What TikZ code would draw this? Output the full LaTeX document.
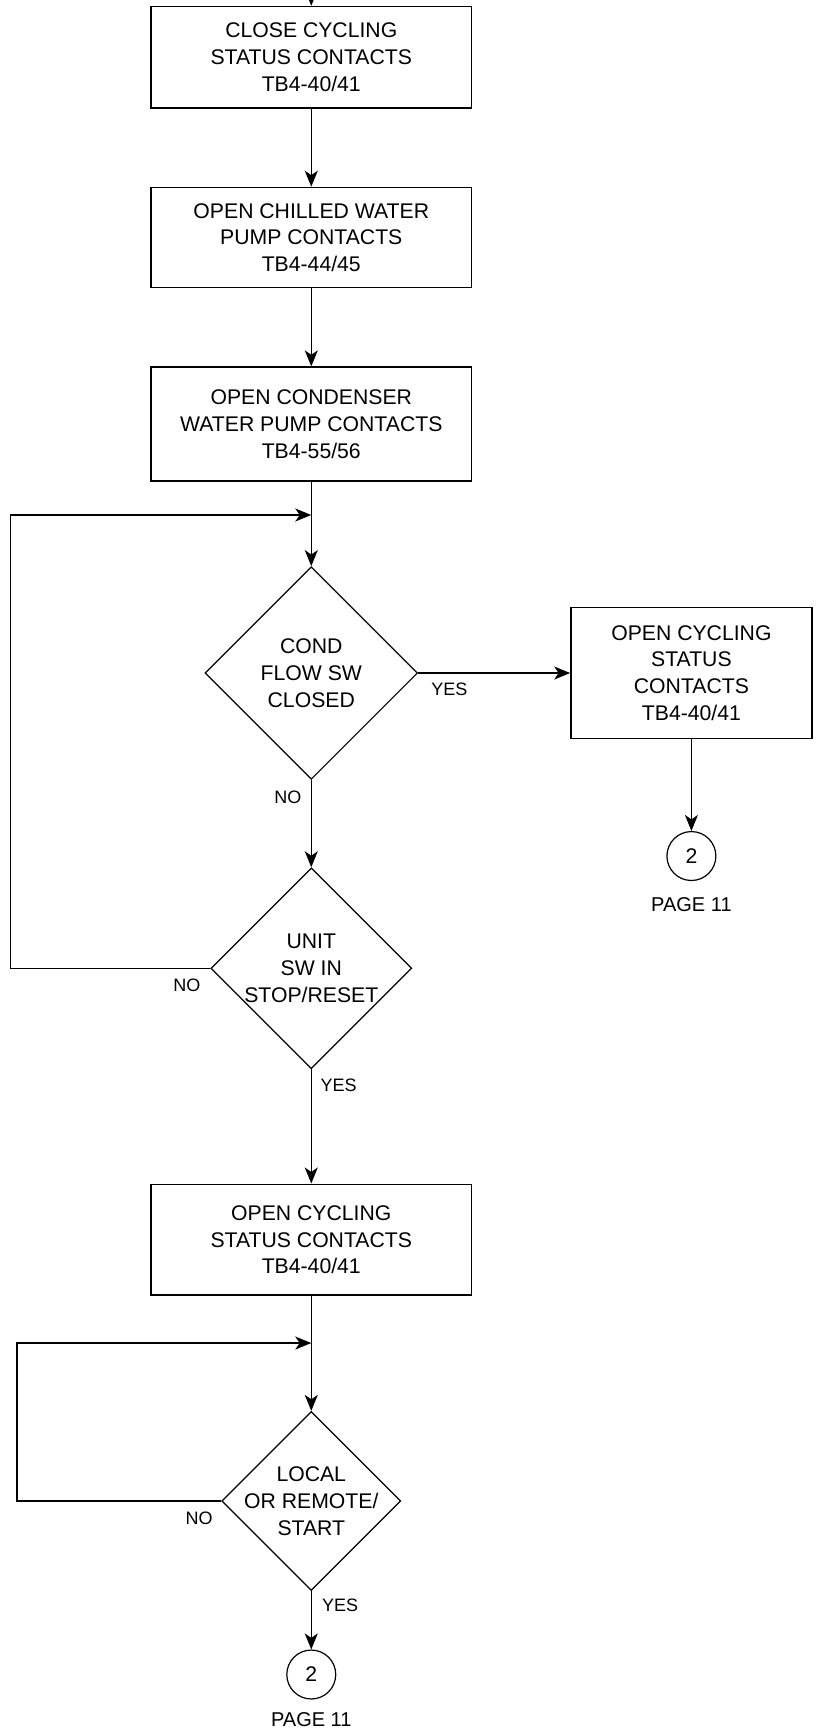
\documentclass[tikz,border=0pt]{standalone}
\usepackage{fontspec}
\setmainfont{Liberation Sans}
\usetikzlibrary{arrows.meta, positioning, shapes.geometric}

\begin{document}
\begin{tikzpicture}[
    font=\fontsize{10.6}{13.4}\selectfont,
    box/.style={draw, line width=0.7pt, minimum width=5.64cm, align=center, inner sep=2pt},
    dec/.style={draw, diamond, line width=0.6pt, align=center, inner sep=-8pt},
    conn/.style={draw, circle, line width=0.6pt, minimum size=0.86cm, inner sep=0pt},
    lbl/.style={font=\fontsize{9}{11}\selectfont, inner sep=1pt},
    pg/.style={font=\fontsize{10}{12}\selectfont, inner sep=1pt},
    barr/.style={-{Stealth[length=8pt, width=6.5pt, inset=2.2pt]}, line width=0.75pt},
]
\useasboundingbox (0,0) rectangle (14.357,-30.489);

% ── Sequência de contatos ──────────────────────────
\coordinate (topo) at (5.47,0.3);
\node[box, minimum height=1.78cm] (b1) at (5.47,-1.005) {CLOSE CYCLING\\STATUS CONTACTS\\TB4-40/41};
\node[box, minimum height=1.76cm] (b2) at (5.47,-4.174) {OPEN CHILLED WATER\\PUMP CONTACTS\\TB4-44/45};
\node[box, minimum height=2.0cm]  (b3) at (5.47,-7.451) {OPEN CONDENSER\\WATER PUMP CONTACTS\\TB4-55/56};

% Decisões
\node[dec, minimum width=3.736cm, minimum height=3.736cm] (d1) at (5.47,-11.827) {COND\\FLOW SW\\CLOSED};
\node[dec, minimum width=3.53cm, minimum height=3.53cm]   (d2) at (5.47,-17.016) {UNIT\\SW IN\\STOP/RESET};

% Ramo da direita
\node[box, minimum width=4.235cm, minimum height=2.3cm] (b4) at (12.15,-11.827) {OPEN CYCLING\\STATUS\\CONTACTS\\TB4-40/41};
\node[conn] (c1) at (12.15,-15.043) {2};
\node[pg, below=0.25cm of c1] (p1) {PAGE 11};

% ── Parte de baixo ─────────────────────────────────
\node[box, minimum height=1.95cm] (b5) at (5.47,-21.785) {OPEN CYCLING\\STATUS CONTACTS\\TB4-40/41};
\node[dec, minimum width=3.146cm, minimum height=3.146cm] (d3) at (5.47,-26.377) {LOCAL\\OR REMOTE/\\START};
\node[conn] (c2) at (5.47,-29.426) {2};
\node[pg, below=0.18cm of c2] (p2) {PAGE 11};

% Pontos dos laços
\coordinate (j1) at (5.47,-9.05);
\coordinate (k1) at (0.183,-9.05);
\coordinate (j2) at (5.47,-23.601);
\coordinate (k2) at (0.302,-23.601);

% Rótulos SIM / NÃO
\node[lbl, below right=0.13cm and 0.19cm of d1.east]  (y1) {YES};
\node[lbl, below left=0.15cm and 0.13cm of d1.south]  (n1) {NO};
\node[lbl, below left=0.15cm and 0.13cm of d2.west]   (n2) {NO};
\node[lbl, below right=0.13cm and 0.12cm of d2.south] (y2) {YES};
\node[lbl, below left=0.15cm and 0.11cm of d3.west]   (n3) {NO};
\node[lbl, below right=0.1cm and 0.15cm of d3.south]  (y3) {YES};

% Setas
\draw[barr] (topo) -- (b1);
\draw[barr] (b1) -- (b2);
\draw[barr] (b2) -- (b3);
\draw[barr] (b3) -- (d1);
\draw[barr] (d1) -- (b4);
\draw[barr] (b4) -- (c1);
\draw[barr] (d1) -- (d2);
\draw[barr] (d2.west) -| (k1) -- (j1);
\draw[barr] (d2) -- (b5);
\draw[barr] (b5) -- (d3);
\draw[barr] (d3.west) -| (k2) -- (j2);
\draw[barr] (d3) -- (c2);

\end{tikzpicture}
\end{document}
